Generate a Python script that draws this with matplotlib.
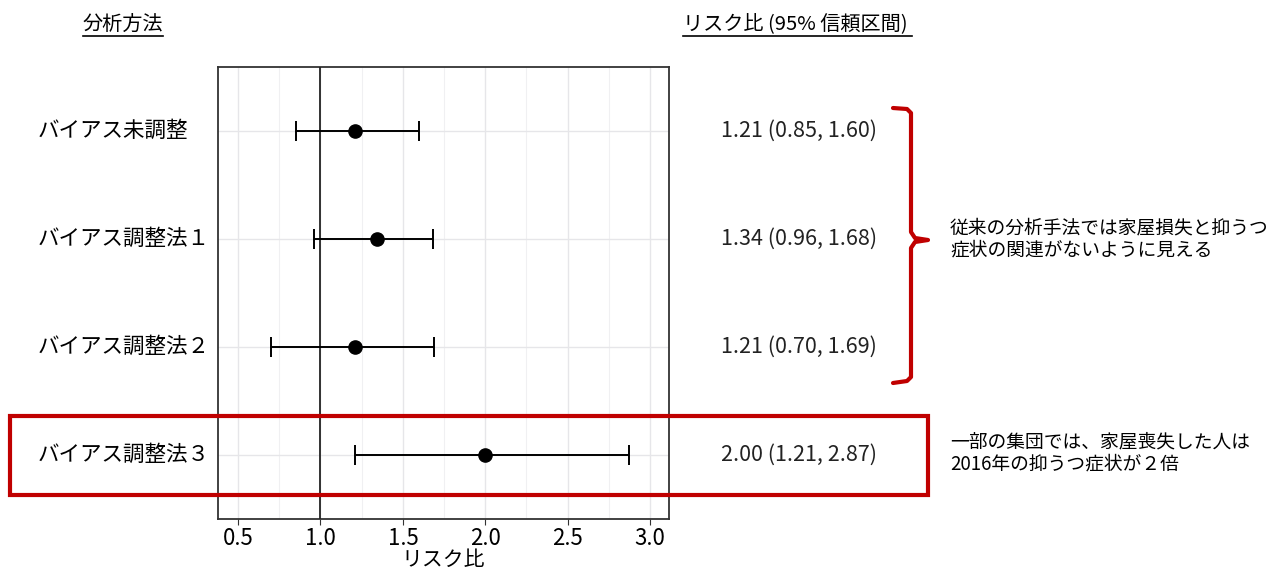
import matplotlib.pyplot as plt
from matplotlib.patches import Rectangle
from matplotlib.lines import Line2D
from matplotlib.transforms import blended_transform_factory
from matplotlib.ticker import MultipleLocator

plt.rcParams['font.family'] = ['Noto Sans CJK JP', 'DejaVu Sans']

# data
methods = ['バイアス未調整', 'バイアス調整法１', 'バイアス調整法２', 'バイアス調整法３']
rr = [1.21, 1.34, 1.21, 2.00]
ci_low = [0.85, 0.96, 0.70, 1.21]
ci_high = [1.60, 1.68, 1.69, 2.87]
note_top = '従来の分析手法では家屋損失と抑うつ\n症状の関連がないように見える'
note_bottom = '一部の集団では、家屋喪失した人は\n2016年の抑うつ症状が２倍'

W, H = 1271, 571
red = '#C00000'

fig = plt.figure(figsize=(W / 100, H / 100), dpi=100)
ax = fig.add_axes([218 / W, (H - 519) / H, 451 / W, 452 / H])

def fx(px):
    return px / W

def fy(py):
    return (H - py) / H

ypos = list(range(len(methods), 0, -1))
err = [[m - l for m, l in zip(rr, ci_low)], [h - m for m, h in zip(rr, ci_high)]]
ax.errorbar(rr, ypos, xerr=err, fmt='o', color='black', ms=9.5,
            elinewidth=1.4, capsize=7.5, capthick=1.4, zorder=4)
ax.axvline(1.0, color='#222222', lw=1.3, zorder=3)

ax.set_xlim(0.378, 3.115)
ax.set_ylim(0.41, len(methods) + 0.59)
ax.xaxis.set_major_locator(MultipleLocator(0.5))
ax.xaxis.set_minor_locator(MultipleLocator(0.25))
ax.set_xticks([0.5, 1.0, 1.5, 2.0, 2.5, 3.0])
ax.set_xticklabels(['0.5', '1.0', '1.5', '2.0', '2.5', '3.0'])
ax.set_yticks(ypos)
ax.set_yticklabels([])
ax.grid(True, which='major', color='#e6e6e9', lw=1.0)
ax.grid(True, which='minor', axis='x', color='#f0f0f2', lw=0.8)
ax.set_axisbelow(True)
ax.tick_params(axis='x', which='major', labelsize=16, length=4, color='#333333', pad=2)
ax.tick_params(axis='x', which='minor', length=0)
ax.tick_params(axis='y', length=0)
for s in ax.spines.values():
    s.set_color('#333333')
    s.set_linewidth(1.3)
ax.set_xlabel('リスク比', fontsize=15, labelpad=-1)

# row labels and value column
tr = blended_transform_factory(fig.transFigure, ax.transData)
for y, name, m, l, h in zip(ypos, methods, rr, ci_low, ci_high):
    fig.text(fx(38), y, name, transform=tr, fontsize=15.5, va='center', ha='left')
    fig.text(fx(877), y, f'{m:.2f} ({l:.2f}, {h:.2f})', transform=tr,
             fontsize=15.5, va='center', ha='right', color='#222222')

# headers with underline
for txt, x0, x1 in [('分析方法', 83, 163), ('リスク比 (95% 信頼区間)', 683, 912)]:
    fig.text(fx(x0), fy(25), txt, fontsize=14.5, va='center', ha='left')
    fig.add_artist(Line2D([fx(x0), fx(x1)], [fy(36), fy(36)], color='black', lw=1.2))

# red brace
bx = [893, 907, 911, 911, 915, 928, 915, 911, 911, 907, 893]
by = [108, 109, 113, 232, 238, 240, 242, 248, 377, 381, 383]
fig.add_artist(Line2D([fx(v) for v in bx], [fy(v) for v in by], color=red, lw=3,
                      solid_joinstyle='round', solid_capstyle='round'))

# red box around last row
fig.add_artist(Rectangle((fx(10), fy(495)), fx(928) - fx(10), fy(416) - fy(495),
                         transform=fig.transFigure, fill=False, edgecolor=red, lw=3))

fig.text(fx(950), fy(239), note_top, fontsize=13.5, va='center', ha='left', linespacing=1.05)
fig.text(fx(950), fy(453), note_bottom, fontsize=13.5, va='center', ha='left', linespacing=1.05)

fig.savefig('out.png', dpi=100)
